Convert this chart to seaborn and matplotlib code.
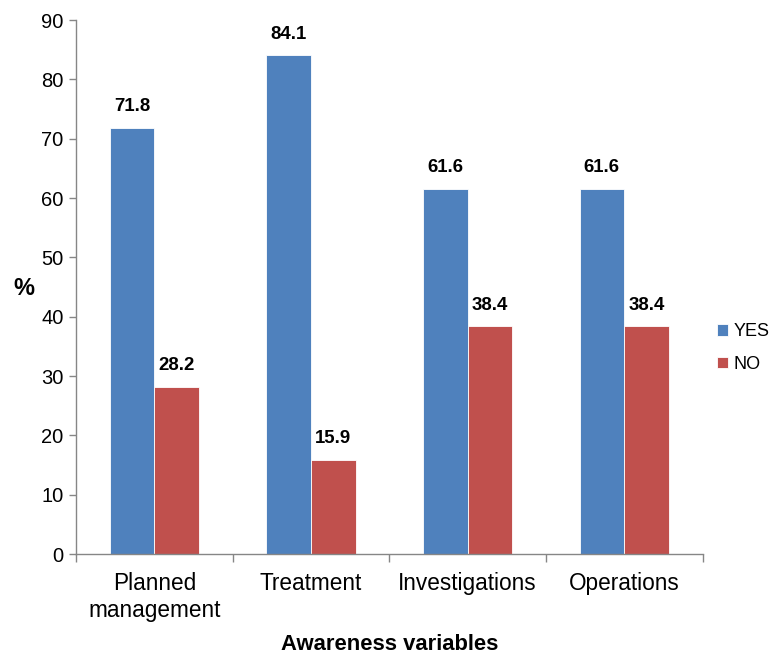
import matplotlib
matplotlib.use("Agg")
import matplotlib.pyplot as plt
import seaborn as sns
import pandas as pd
from matplotlib.ticker import FixedLocator, NullFormatter

sns.set_style("white")
plt.rcParams["font.family"] = ["Liberation Sans", "DejaVu Sans"]
plt.rcParams["text.color"] = "black"
plt.rcParams["xtick.color"] = "black"
plt.rcParams["ytick.color"] = "black"
plt.rcParams["axes.labelcolor"] = "black"

categories = ["Planned\nmanagement", "Treatment", "Investigations", "Operations"]
yes_values = [71.8, 84.1, 61.6, 61.6]
no_values = [28.2, 15.9, 38.4, 38.4]
series = ["YES", "NO"]
colors = ["#4F81BD", "#C0504D"]

df = pd.DataFrame({
    "category": categories * 2,
    "value": yes_values + no_values,
    "group": [series[0]] * len(categories) + [series[1]] * len(categories),
})

fig = plt.figure(figsize=(7.71, 6.58), dpi=100)
ax = fig.add_axes([0.0986, 0.158, 0.8126, 0.8116])

sns.barplot(data=df, x="category", y="value", hue="group", palette=colors,
            saturation=1, width=0.571, gap=0, ax=ax, errorbar=None,
            edgecolor="white", linewidth=0.6)

for container in ax.containers:
    ax.bar_label(container, fmt="%.1f", padding=9, fontsize=13.4,
                 fontweight="bold", color="black")

ax.set_ylim(0, 90)
ax.set_yticks(range(0, 91, 10))
ax.set_xlim(-0.5, len(categories) - 0.5)

gray = "#868686"
for side in ["top", "right"]:
    ax.spines[side].set_visible(False)
for side in ["left", "bottom"]:
    ax.spines[side].set_color(gray)
    ax.spines[side].set_linewidth(1.0)

ax.tick_params(axis="y", which="major", length=5, width=1, color=gray,
               labelcolor="black", labelsize=14.5, pad=4, left=True)
ax.tick_params(axis="x", which="major", length=0, labelcolor="black",
               labelsize=16.3, pad=13)
ax.xaxis.set_minor_locator(FixedLocator([i - 0.5 for i in range(len(categories) + 1)]))
ax.xaxis.set_minor_formatter(NullFormatter())
ax.tick_params(axis="x", which="minor", length=6, width=1, color=gray, bottom=True)

ax.set_xlabel("Awareness variables", fontsize=15.8, fontweight="bold",
              va="center", color="black")
ax.xaxis.set_label_coords(0.5, -0.1685)
ax.set_ylabel("")
fig.text(0.031, 0.562, "%", fontsize=17, fontweight="bold", ha="center",
         va="center", color="black")

handles, labels = ax.get_legend_handles_labels()
ax.legend(handles, labels, loc="center left", bbox_to_anchor=(717 / 771, 1 - 348 / 658),
          bbox_transform=fig.transFigure, frameon=False, fontsize=13,
          handlelength=0.6, handleheight=0.6, handletextpad=0.3,
          labelspacing=0.85, borderpad=0, borderaxespad=0, labelcolor="black")

fig.savefig("out.png", dpi=100)
